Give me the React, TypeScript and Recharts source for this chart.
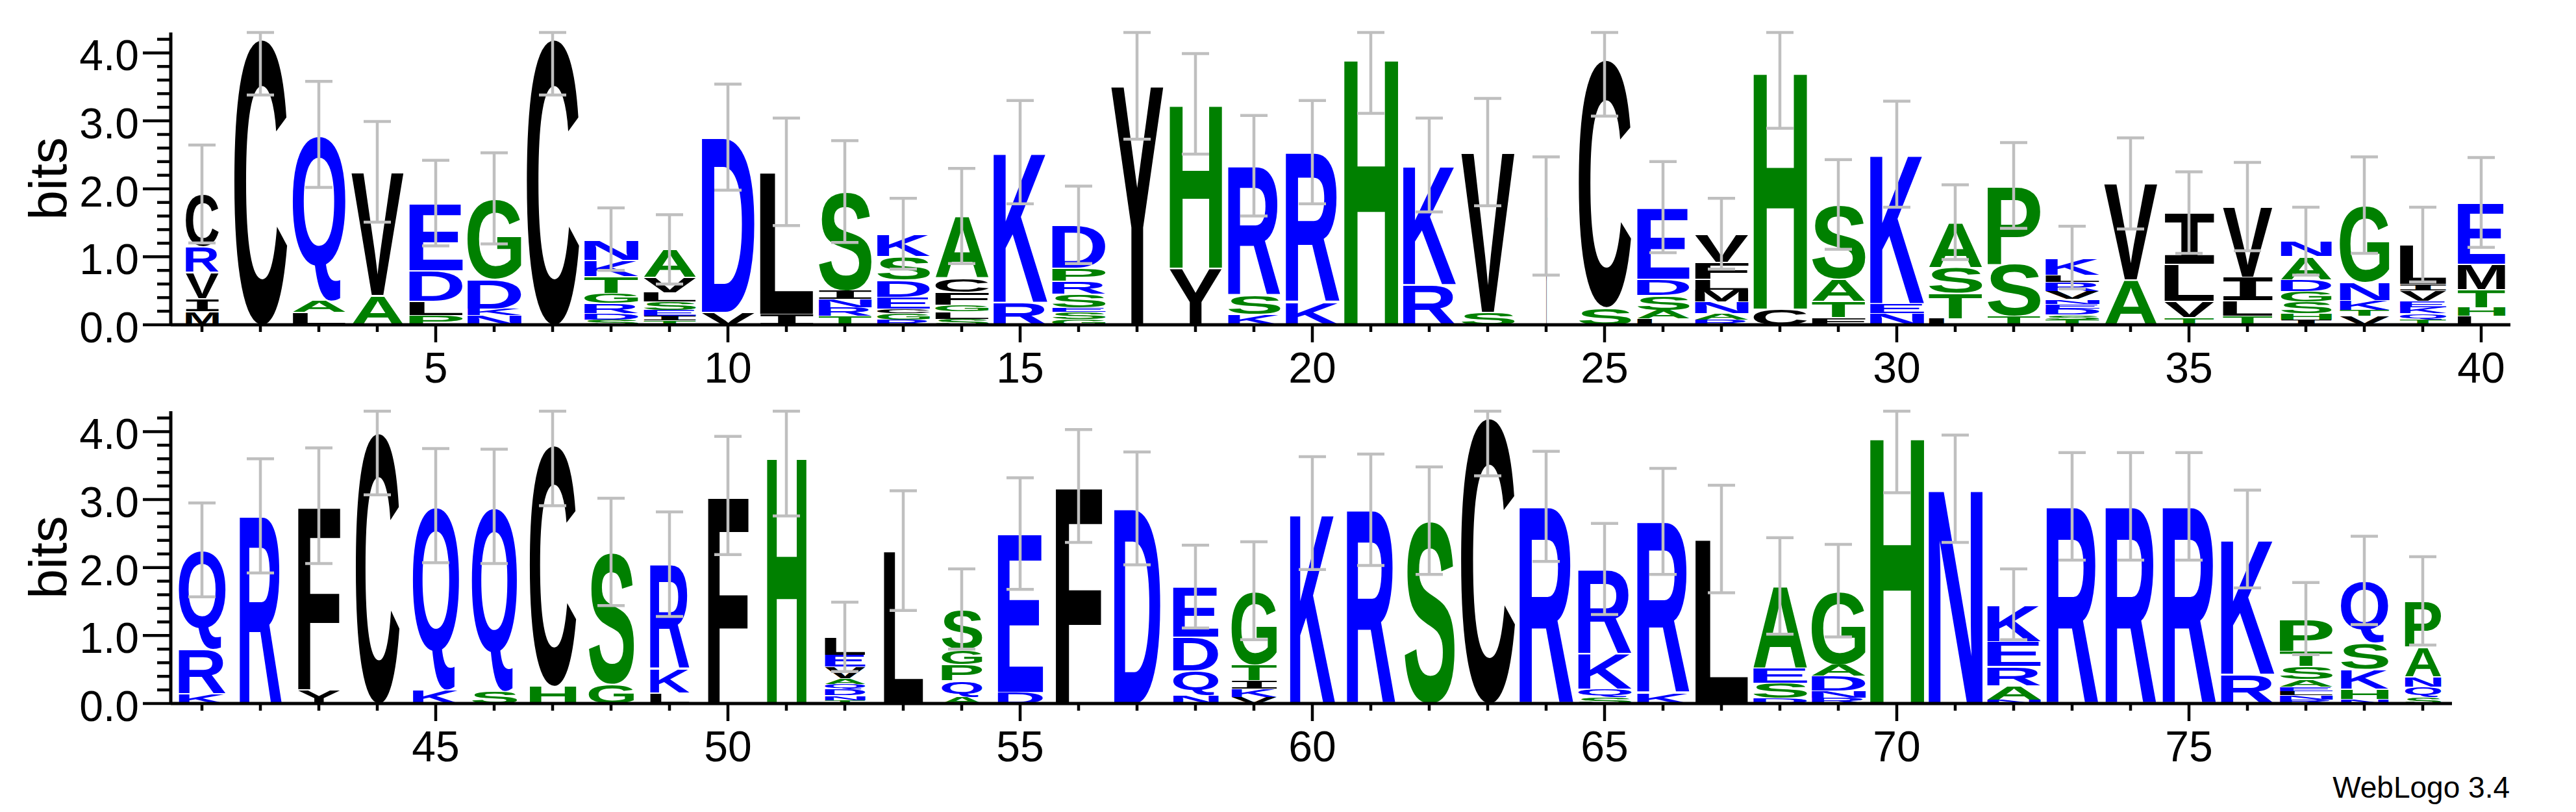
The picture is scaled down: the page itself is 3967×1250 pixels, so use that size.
import React from "react";
import { Bar, ComposedChart, ErrorBar, Line, XAxis, YAxis } from "recharts";

// sequence logo (heights in bits, letters bottom -> top)
const TOP_POSITIONS = [
  1, 2, 3, 4, 5, 6, 7, 8, 9, 10, 11, 12, 13, 14, 15, 16, 17, 18, 19, 20,
  21, 22, 23, 24, 25, 26, 27, 28, 29, 30, 31, 32, 33, 34, 35, 36, 37, 38, 39, 40,
];
const TOP_TICK_LABELS = [5, 10, 15, 20, 25, 30, 35, 40];
const TOP_LETTERS = [
  "MIVRC", "C", "LAQ", "AV", "PLDE", "NKDG", "C", "SDRGTKN", "TIESLVA", "VD",
  "IL", "TRNIS", "RGCEDSK", "SLGFCA", "RK", "GSESRPD", "Y", "YH", "KSR", "KR",
  "H", "RK", "SV", "Y", "SC", "LASDE", "RANMLFV", "CH", "FTAS", "NEK",
  "LTSA", "TSP", "TSDENVRLK", "AV", "TVLI", "TLIV", "IHSGDAN", "VTKNG", "TQKEVIL", "LHTME",
];
const TOP_HEIGHTS = [
  [0.2, 0.19, 0.39, 0.375, 0.77],
  [4.21],
  [0.19, 0.17, 2.44],
  [0.44, 1.81],
  [0.14, 0.21, 0.45, 0.99],
  [0.14, 0.1, 0.44, 1.18],
  [4.21],
  [0.08, 0.09, 0.15, 0.15, 0.25, 0.24, 0.3],
  [0.07, 0.06, 0.09, 0.12, 0.14, 0.22, 0.41],
  [0.19, 2.57],
  [0.16, 2.09],
  [0.13, 0.13, 0.12, 0.13, 1.45],
  [0.08, 0.09, 0.07, 0.17, 0.25, 0.35, 0.33],
  [0.09, 0.11, 0.1, 0.18, 0.21, 0.91],
  [0.34, 2.2],
  [0.08, 0.11, 0.07, 0.2, 0.19, 0.19, 0.63],
  [3.52],
  [0.84, 2.41],
  [0.16, 0.28, 1.9],
  [0.34, 2.2],
  [3.93],
  [0.6, 1.75],
  [0.19, 2.35],
  [1.6],
  [0.26, 3.65],
  [0.09, 0.13, 0.22, 0.24, 1.05],
  [0.08, 0.09, 0.17, 0.18, 0.16, 0.25, 0.41],
  [0.24, 3.49],
  [0.11, 0.24, 0.33, 1.09],
  [0.17, 0.15, 2.19],
  [0.1, 0.37, 0.38, 0.66],
  [0.13, 0.77, 1.15],
  [0.08, 0.07, 0.09, 0.07, 0.07, 0.12, 0.13, 0.11, 0.25],
  [0.67, 1.41],
  [0.11, 0.24, 0.55, 0.75],
  [0.13, 0.23, 0.35, 1.03],
  [0.08, 0.09, 0.17, 0.16, 0.17, 0.34, 0.22],
  [0.13, 0.09, 0.14, 0.27, 1.13],
  [0.08, 0.09, 0.09, 0.09, 0.16, 0.09, 0.58],
  [0.13, 0.13, 0.27, 0.37, 0.9],
];
const TOP_ERRORS = [
  0.72, 0.83, 0.78, 0.74, 0.63, 0.67, 0.83, 0.46, 0.51, 0.78,
  0.79, 0.75, 0.52, 0.7, 0.76, 0.57, 0.79, 0.74, 0.74, 0.76,
  0.82, 0.69, 0.79, 0.87, 0.84, 0.67, 0.52, 0.84, 0.66, 0.78,
  0.55, 0.63, 0.46, 0.67, 0.6, 0.65, 0.5, 0.71, 0.55, 0.66,
];
// stack width as a fraction of a full column (occupancy)
const TOP_OCCUPANCY = [
  0.61, 0.98, 0.98, 0.97, 0.99, 1, 0.97, 1, 0.97, 0.98,
  0.99, 0.98, 0.98, 0.99, 1, 0.99, 0.97, 0.97, 0.97, 1,
  1, 0.98, 0.99, 0.03, 0.97, 0.97, 0.99, 0.99, 0.99, 1,
  0.99, 0.98, 1, 0.99, 0.92, 0.92, 0.94, 0.92, 0.86, 0.88,
];

const BOTTOM_POSITIONS = [
  41, 42, 43, 44, 45, 46, 47, 48, 49, 50, 51, 52, 53, 54, 55, 56, 57, 58, 59, 60,
  61, 62, 63, 64, 65, 66, 67, 68, 69, 70, 71, 72, 73, 74, 75, 76, 77, 78, 79,
];
const BOTTOM_TICK_LABELS = [45, 50, 55, 60, 65, 70, 75];
const BOTTOM_LETTERS = [
  "KRQ", "R", "YF", "C", "KQ", "SQ", "HC", "GS", "LKR", "F",
  "H", "TNDQAVEL", "L", "AQPGS", "DE", "F", "D", "NQDE", "VKITG", "K",
  "R", "S", "C", "R", "SQKR", "KR", "L", "DSEA", "RNDAG", "H",
  "N", "NAREK", "R", "R", "R", "RK", "RNLEASTP", "NHKSQ", "SQNAP",
];
const BOTTOM_HEIGHTS = [
  [0.15, 0.66, 1.45],
  [2.76],
  [0.21, 2.7],
  [3.99],
  [0.21, 2.7],
  [0.19, 2.71],
  [0.26, 3.55],
  [0.29, 1.94],
  [0.16, 0.35, 1.54],
  [3.06],
  [3.64],
  [0.05, 0.07, 0.09, 0.08, 0.08, 0.17, 0.18, 0.26],
  [2.25],
  [0.1, 0.24, 0.24, 0.22, 0.59],
  [0.17, 2.33],
  [3.2],
  [2.87],
  [0.12, 0.37, 0.49, 0.74],
  [0.1, 0.12, 0.12, 0.24, 1.08],
  [2.8],
  [2.85],
  [2.69],
  [4.21],
  [2.9],
  [0.1, 0.12, 0.52, 1.24],
  [0.16, 2.52],
  [2.42],
  [0.08, 0.23, 0.22, 1.2],
  [0.09, 0.1, 0.22, 0.17, 1.08],
  [3.93],
  [3.16],
  [0.06, 0.21, 0.28, 0.37, 0.54],
  [2.9],
  [2.9],
  [2.9],
  [0.44, 1.98],
  [0.06, 0.06, 0.06, 0.07, 0.11, 0.19, 0.22, 0.48],
  [0.07, 0.15, 0.29, 0.38, 0.92],
  [0.09, 0.16, 0.15, 0.44, 0.67],
];
const BOTTOM_ERRORS = [
  0.69, 0.84, 0.85, 0.92, 0.84, 0.84, 0.9, 0.79, 0.77, 0.87,
  0.88, 0.51, 0.88, 0.59, 0.82, 0.83, 0.83, 0.61, 0.72, 0.83,
  0.82, 0.79, 0.86, 0.81, 0.67, 0.78, 0.79, 0.71, 0.68, 0.83,
  0.79, 0.52, 0.79, 0.79, 0.79, 0.72, 0.53, 0.65, 0.65,
];
const BOTTOM_OCCUPANCY = [
  0.87, 0.78, 0.78, 0.81, 0.86, 0.84, 0.86, 0.84, 0.73, 0.75,
  0.73, 0.75, 0.73, 0.75, 0.84, 0.86, 0.86, 0.84, 0.84, 0.84,
  0.9, 0.93, 1, 1, 0.99, 0.97, 0.98, 1, 1, 1,
  1, 0.99, 0.96, 0.94, 0.99, 0.99, 0.98, 0.88, 0.67,
];

const Y_TICKS = [
  0, 0.2, 0.4, 0.6, 0.8, 1, 1.2, 1.4, 1.6, 1.8, 2, 2.2, 2.4, 2.6, 2.8, 3,
  3.2, 3.4, 3.6, 3.8, 4, 4.2,
];
const Y_MAX = 4.3;
const MAX_LAYERS = 9;

const GREEN = "#008000";
const BLUE = "#0000ff";
const BLACK = "#000000";
const ERR_GRAY = "#bfbfbf";

const LETTER_COLORS: Record<string, string> = {
  G: GREEN, S: GREEN, T: GREEN, A: GREEN, H: GREEN, P: GREEN,
  Q: BLUE, E: BLUE, D: BLUE, N: BLUE, K: BLUE, R: BLUE,
  C: BLACK, V: BLACK, L: BLACK, I: BLACK, Y: BLACK, F: BLACK, M: BLACK, W: BLACK,
};

const AXIS_FONT = '"Liberation Sans", Arial, sans-serif';
const GLYPH_PX = 200;

function glyphFont(ch: string) {
  // WebLogo's I has bars top and bottom
  return ch === "I" ? '"DejaVu Sans Mono", monospace' : AXIS_FONT;
}

type Metrics = { l: number; r: number; a: number; d: number };
const metricCache: Record<string, Metrics> = {};

function glyphMetrics(ch: string): Metrics {
  if (metricCache[ch]) return metricCache[ch];
  const canvas = document.createElement("canvas");
  const ctx = canvas.getContext("2d");
  let m: Metrics = { l: 0, r: GLYPH_PX * 0.7, a: GLYPH_PX * 0.72, d: 0 };
  if (ctx) {
    ctx.font = `bold ${GLYPH_PX}px ${glyphFont(ch)}`;
    const t = ctx.measureText(ch);
    m = {
      l: t.actualBoundingBoxLeft,
      r: t.actualBoundingBoxRight,
      a: t.actualBoundingBoxAscent,
      d: t.actualBoundingBoxDescent,
    };
  }
  metricCache[ch] = m;
  return m;
}

function buildRows(
  positions: number[],
  letters: string[],
  heights: number[][],
  errors: number[],
  occupancy: number[],
) {
  return positions.map((pos, i) => {
    const row: Record<string, unknown> = { pos, letters: letters[i], occ: occupancy[i] };
    const total = heights[i].reduce((s, h) => s + h, 0);
    heights[i].forEach((h, k) => {
      row[`h${k}`] = h;
    });
    row.total = total;
    row.errRange = [errors[i], Math.max(0, Math.min(errors[i], Y_MAX - total))];
    return row;
  });
}

function LetterShape(props: any) {
  const { x, y, width, height, payload, layer } = props;
  const ch: string | undefined = payload?.letters?.[layer];
  if (!ch || !(height > 0.3)) return null;
  const w = width * (payload.occ ?? 1);
  const bx = x + (width - w) / 2;
  const gap = Math.min(2, height * 0.08);
  const bh = height - gap;
  const m = glyphMetrics(ch);
  const sx = w / (m.l + m.r);
  const sy = bh / (m.a + m.d);
  return (
    <text
      transform={`translate(${bx + m.l * sx},${y + gap + m.a * sy}) scale(${sx},${sy})`}
      fontFamily={glyphFont(ch)}
      fontWeight="bold"
      fontSize={GLYPH_PX}
      fill={LETTER_COLORS[ch] ?? BLACK}
    >
      {ch}
    </text>
  );
}

function YTick(props: any) {
  const { x, y, payload } = props;
  const v: number = payload.value;
  const major = Math.abs(v - Math.round(v)) < 1e-6;
  return (
    <g>
      <line x1={x - (major ? 43 : 21)} x2={x} y1={y} y2={y} stroke={BLACK} strokeWidth={4.5} />
      {major && (
        <text x={x - 49} y={y + 27} textAnchor="end" fontFamily={AXIS_FONT} fontSize={66} fill={BLACK}>
          {v.toFixed(1)}
        </text>
      )}
    </g>
  );
}

function makeXTick(labels: number[]) {
  return function XTick(props: any) {
    const { x, y, payload } = props;
    const major = labels.includes(Number(payload.value));
    return (
      <g>
        <line x1={x} x2={x} y1={y} y2={y + (major ? 27 : 11)} stroke={BLACK} strokeWidth={4.5} />
        {major && (
          <text x={x} y={y + 89} textAnchor="middle" fontFamily={AXIS_FONT} fontSize={66} fill={BLACK}>
            {payload.value}
          </text>
        )}
      </g>
    );
  };
}

function BitsLabel(props: any) {
  const vb = props.viewBox ?? { x: 0, y: 50, width: 263, height: 450 };
  const cx = vb.x + 102;
  const cy = vb.y + vb.height / 2;
  return (
    <text
      x={cx}
      y={cy}
      transform={`rotate(-90, ${cx}, ${cy})`}
      textAnchor="middle"
      fontFamily={AXIS_FONT}
      fontSize={82}
      fill={BLACK}
    >
      bits
    </text>
  );
}

type LogoRowProps = {
  data: Record<string, unknown>[];
  tickLabels: number[];
  rightMargin: number;
};

function LogoRow({ data, tickLabels, rightMargin }: LogoRowProps) {
  const XTick = makeXTick(tickLabels);
  const layers = Array.from({ length: MAX_LAYERS }, (_, k) => k);
  return (
    <ComposedChart
      width={3967}
      height={600}
      data={data}
      margin={{ top: 50, right: rightMargin, bottom: 0, left: 0 }}
    >
      <XAxis
        dataKey="pos"
        type="category"
        interval={0}
        height={100}
        tickSize={0}
        tickMargin={0}
        tickLine={false}
        padding={{ left: 3, right: 0 }}
        axisLine={{ stroke: BLACK, strokeWidth: 5 }}
        tick={<XTick />}
      />
      <YAxis
        type="number"
        domain={[0, Y_MAX]}
        allowDataOverflow
        ticks={Y_TICKS}
        interval={0}
        width={263}
        tickSize={0}
        tickMargin={0}
        tickLine={false}
        axisLine={{ stroke: BLACK, strokeWidth: 5 }}
        tick={<YTick />}
        label={<BitsLabel />}
      />
      {layers.map((k) => (
        <Bar
          key={k}
          dataKey={`h${k}`}
          stackId="logo"
          barSize={83}
          isAnimationActive={false}
          shape={(p: any) => <LetterShape {...p} layer={k} />}
        />
      ))}
      <Line
        dataKey="total"
        stroke="none"
        dot={false}
        activeDot={false}
        isAnimationActive={false}
        legendType="none"
      >
        <ErrorBar
          dataKey="errRange"
          direction="y"
          width={21}
          strokeWidth={4.5}
          stroke={ERR_GRAY}
          isAnimationActive={false}
        />
      </Line>
    </ComposedChart>
  );
}

export default function App() {
  const topRows = buildRows(TOP_POSITIONS, TOP_LETTERS, TOP_HEIGHTS, TOP_ERRORS, TOP_OCCUPANCY);
  const bottomRows = buildRows(
    BOTTOM_POSITIONS,
    BOTTOM_LETTERS,
    BOTTOM_HEIGHTS,
    BOTTOM_ERRORS,
    BOTTOM_OCCUPANCY,
  );
  return (
    <div
      style={{
        position: "absolute",
        left: 0,
        top: 0,
        width: 3967,
        height: 1250,
        background: "#ffffff",
        overflow: "hidden",
      }}
    >
      <div style={{ position: "absolute", left: 0, top: 0 }}>
        <LogoRow data={topRows} tickLabels={TOP_TICK_LABELS} rightMargin={101} />
      </div>
      <div style={{ position: "absolute", left: 0, top: 583 }}>
        <LogoRow data={bottomRows} tickLabels={BOTTOM_TICK_LABELS} rightMargin={191} />
      </div>
      <svg
        style={{ position: "absolute", left: 3467, top: 1180 }}
        width={500}
        height={70}
      >
        <text x={398} y={48} textAnchor="end" fontFamily={AXIS_FONT} fontSize={46} fill={BLACK}>
          WebLogo 3.4
        </text>
      </svg>
    </div>
  );
}
